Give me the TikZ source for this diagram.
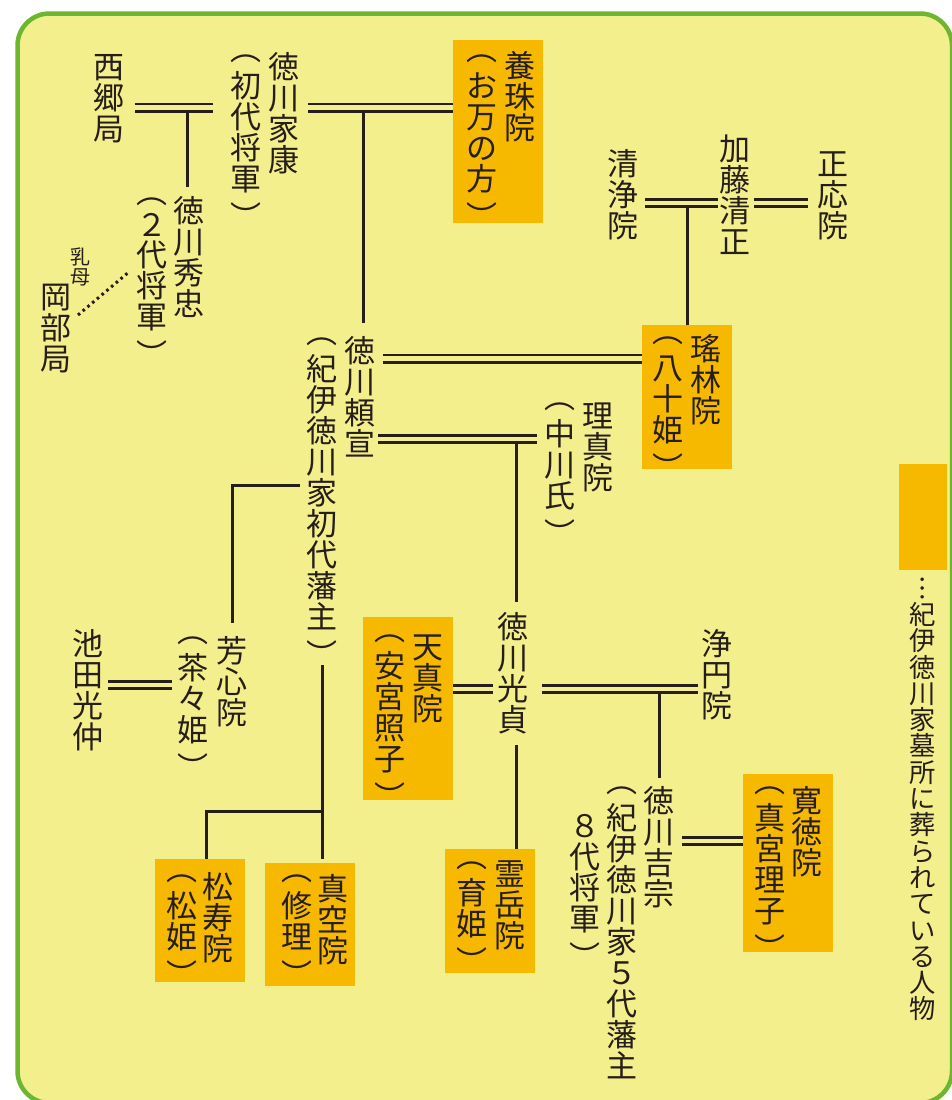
\documentclass[tikz,border=0pt]{standalone}
\usepackage{fontspec}
\newfontfamily\jp{Noto Sans CJK JP}
\usetikzlibrary{calc}
\definecolor{bgy}{RGB}{244,239,141}
\definecolor{org}{RGB}{247,185,0}
\definecolor{grn}{RGB}{108,182,48}
\definecolor{ink}{RGB}{38,30,24}
% vertical column helpers
\newcommand\K[1]{\hbox to 1em{\hss\vrule height .88em depth .12em width 0pt\relax #1\hss}}
\newcommand\Dtwo{\hbox to 1em{\hss\vrule height .75em depth .1em width 0pt\relax ２\hss}}
\newcommand\OP{\vbox to .55em{\vskip .06em\hbox to 1em{\hss ︵\hss}\vss}}
\newcommand\CP{\vbox to .55em{\vskip .27em\hbox to 1em{\hss ︶\hss}\vss}}
\def\colitem#1{\ifcat\relax\noexpand#1#1\else\K{#1}\fi}
\def\colloop#1{\ifx\relax#1\else\colitem{#1}\expandafter\colloop\fi}
\newcommand\col[1]{\vbox{\offinterlineskip\colloop#1\relax}}
\begin{document}
\begin{tikzpicture}[x=1pt,y=-1pt,
  vt/.style={inner sep=0pt,outer sep=0pt,anchor=north,text=ink,font=\jp\fontsize{31pt}{31pt}\selectfont},
  smallvt/.style={vt,font=\jp\fontsize{20pt}{20pt}\selectfont},
  legvt/.style={vt,font=\jp\fontsize{26.3pt}{26.3pt}\selectfont},
  pbox/.style={fill=org,draw=none,inner sep=0pt,outer sep=0pt},
  ln/.style={draw=ink,line width=3pt},
  dbl/.style={draw=ink,line width=2.8pt,double=bgy,double distance=4.4pt},
  dotl/.style={draw=ink,line width=3pt,dash pattern=on 2.6pt off 3.6pt}]
\useasboundingbox (0,0) rectangle (951,1100);
% panel
\draw[line width=4.5pt,draw=grn,fill=bgy,rounded corners=32pt] (17.5,13.5) rectangle (952,1103);
% boxes
\node[pbox,minimum width=90pt,minimum height=183pt] (yojuB) at (498,131.5) {};
\node[pbox,minimum width=90pt,minimum height=144pt] (yorinB) at (687,397) {};
\node[pbox,minimum width=90pt,minimum height=183pt] (tenshinB) at (408,708.5) {};
\node[pbox,minimum width=90pt,minimum height=123pt] (shojuB) at (200,920.5) {};
\node[pbox,minimum width=90pt,minimum height=123pt] (shinkuB) at (310,924.5) {};
\node[pbox,minimum width=90pt,minimum height=124pt] (reigakuB) at (490,911) {};
\node[pbox,minimum width=90pt,minimum height=178pt] (kantokuB) at (788,863) {};
\node[pbox,minimum width=48pt,minimum height=106pt] (legendB) at (923,517) {};
% texts
\node[vt] (saigo) at (109,51.5) {\col{西郷局}};
\node[vt] (ieyasu) at (284,51.5) {\col{徳川家康}};
\node[vt] (ieyasuN) at (246,53) {\col{\OP 初代将軍\CP}};
\node[vt] (yoju) at (520,50.5) {\col{養珠院}};
\node[vt] (yojuN) at (482,53) {\col{\OP お万の方\CP}};
\node[vt] (hidetada) at (189,195.5) {\col{徳川秀忠}};
\node[vt] (hidetadaN) at (152,196) {\col{\OP\Dtwo 代将軍\CP}};
\node[smallvt] (menoto) at (80,247) {\col{乳母}};
\node[vt] (okabe) at (56,281.5) {\col{岡部局}};
\node[vt] (seijoin) at (623,148.5) {\col{清浄院}};
\node[vt] (kiyomasa) at (735,133.5) {\col{加藤清正}};
\node[vt] (shooin) at (833,148.5) {\col{正応院}};
\node[vt] (yorin) at (706,333.5) {\col{瑤林院}};
\node[vt] (yorinN) at (668,335) {\col{\OP 八十姫\CP}};
\node[vt] (yorinobu) at (360,335.5) {\col{徳川頼宣}};
\node[vt] (yorinobuN) at (322,336) {\col{\OP 紀伊徳川家初代藩主\CP}};
\node[vt] (rishin) at (598,400.5) {\col{理真院}};
\node[vt] (rishinN) at (560,401) {\col{\OP 中川氏\CP}};
\node[vt] (hoshin) at (232,635.5) {\col{芳心院}};
\node[vt] (hoshinN) at (193,635) {\col{\OP 茶々姫\CP}};
\node[vt] (ikeda) at (88,628.5) {\col{池田光仲}};
\node[vt] (tenshin) at (428,631.5) {\col{天真院}};
\node[vt] (tenshinN) at (390,633) {\col{\OP 安宮照子\CP}};
\node[vt] (mitsusada) at (513,611.5) {\col{徳川光貞}};
\node[vt] (joen) at (717,628.5) {\col{浄円院}};
\node[vt] (shoju) at (218,871.5) {\col{松寿院}};
\node[vt] (shojuN) at (182,873) {\col{\OP 松姫\CP}};
\node[vt] (shinku) at (333,873.5) {\col{真空院}};
\node[vt] (shinkuN) at (297,873) {\col{\OP 修理\CP}};
\node[vt] (reigaku) at (510,858.5) {\col{霊岳院}};
\node[vt] (reigakuN) at (472,860) {\col{\OP 育姫\CP}};
\node[vt] (yoshimune) at (659,785.5) {\col{徳川吉宗}};
\node[vt] (yoshimuneN) at (622,785) {\col{\OP 紀伊徳川家５代藩主}};
\node[vt] (yoshimuneM) at (585,810.5) {\col{８代将軍\CP}};
\node[vt] (kantoku) at (807,785.5) {\col{寛徳院}};
\node[vt] (kantokuN) at (770,785) {\col{\OP 真宮理子\CP}};
\node[legvt] (legend) at (923,575) {\col{︙紀伊徳川家墓所に葬られている人物}};
% connector levels
\coordinate (y1) at (0,107.5);
\coordinate (y2) at (0,203);
\coordinate (y3) at (0,358.5);
\coordinate (y4) at (0,439);
\coordinate (y5) at (0,485);
\coordinate (y6) at (0,685);
\coordinate (y7) at (0,811);
\coordinate (y8) at (0,859);
\coordinate (y9) at (0,689);
\coordinate (y10) at (0,841);
% single lines (stems)
\draw[ln,shorten >=8.5pt] ($(hidetada.north |- y1)+(-2,0)$) -- ($(hidetada.north)+(-2,0)$);
\draw[ln] ($(yorinobu.north |- y1)+(3,0)$) -- ($(yorinobu.north)+(3,-12.5)$);
\draw[ln] (yorinB.north |- y2) -- (yorinB.north);
\draw[ln] ($(mitsusada.north |- y4)+(3,0)$) -- ($(mitsusada.north)+(3,-9.5)$);
\draw[ln] ($(yorinobuN.west |- y5)+(-6.5,0)$) -| ($(hoshin.north)+(0,-12.5)$);
\draw[ln] ($(yorinobuN.south)+(0,16)$) -- (yorinobuN.south |- y8);
\draw[ln] (yorinobuN.south |- y7) -| ($(shojuB.north)+(6,0)$);
\draw[ln] (yoshimune.north |- y9) -- ($(yoshimune.north)+(0,-7.5)$);
\draw[ln] ($(mitsusada.south)+(3,9.5)$) -- ($(mitsusada.south |- reigakuB.north)+(3,0)$);
% double lines (marriages)
\draw[dbl,shorten <=10.5pt,shorten >=17.5pt] (saigo.east |- y1) -- (ieyasuN.west |- y1);
\draw[dbl,shorten <=8.5pt] (ieyasu.east |- y1) -- (yojuB.west |- y1);
\draw[dbl,shorten <=6.5pt,shorten >=1.5pt] (seijoin.east |- y2) -- (kiyomasa.west |- y2);
\draw[dbl,shorten <=3.5pt,shorten >=9.5pt] (kiyomasa.east |- y2) -- (shooin.west |- y2);
\draw[dbl,shorten <=7.5pt] (yorinobu.east |- y3) -- (yorinB.west |- y3);
\draw[dbl,shorten <=2.5pt,shorten >=7.5pt] (yorinobu.east |- y4) -- (rishinN.west |- y4);
\draw[dbl,shorten <=4.5pt,shorten >=5.5pt] (ikeda.east |- y6) -- (hoshinN.west |- y6);
\draw[dbl,shorten >=4.5pt] (tenshinB.east |- y9) -- (mitsusada.west |- y9);
\draw[dbl,shorten <=13.5pt,shorten >=3.5pt] (mitsusada.east |- y9) -- (joen.west |- y9);
\draw[dbl,shorten <=7.5pt] (yoshimune.east |- y10) -- (kantokuB.west |- y10);
% wet-nurse relation
\draw[dotl] ($(okabe.north east)+(6.5,33.5)$) -- ($(hidetadaN.west)+(-8.5,0)$);
\end{tikzpicture}
\end{document}
